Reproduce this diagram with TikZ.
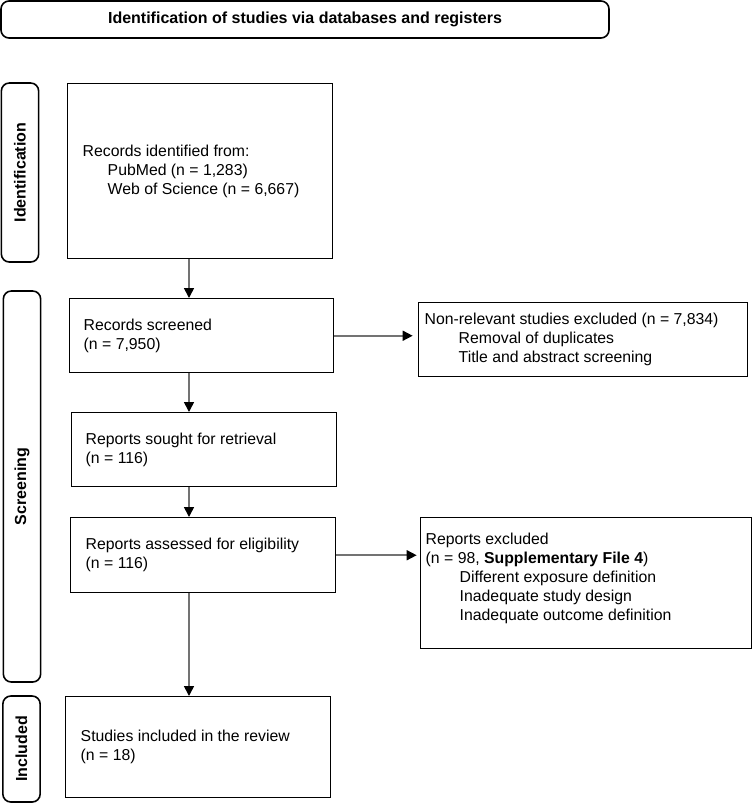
\documentclass[tikz,border=0pt]{standalone}
\usepackage{fontspec}
\setmainfont{Liberation Sans}
\usetikzlibrary{arrows.meta,calc}
\newcommand{\bodyfont}{\fontsize{11.85pt}{14.25pt}\selectfont}
\newcommand{\headfont}{\fontsize{12pt}{14.4pt}\selectfont\bfseries}
\newcommand{\bx}[2]{\makebox[#1][l]{\begin{tabular}{@{}l@{}}#2\end{tabular}}}
\tikzset{
  flowbox/.style={draw=black, line width=1.1pt, rectangle, anchor=north west,
    inner ysep=0pt, font=\bodyfont},
  phasebox/.style={draw=black, line width=1.2pt, rounded corners=6pt, rectangle,
    rotate=90, inner sep=0pt, font=\headfont, minimum height=28pt},
  headbox/.style={draw=black, line width=1.2pt, rounded corners=6pt, rectangle,
    inner sep=0pt, font=\headfont, minimum width=456pt, minimum height=27.75pt},
  flowarrow/.style={draw=black!55, line width=1.2pt,
    -{Triangle[length=7.5pt,width=7.5pt,color=black]}}
}
\begin{document}
\begin{tikzpicture}[x=0.75pt,y=-0.75pt]
\useasboundingbox (0,0) rectangle (752,804);
% header
\node[headbox] (head) at (305,19.5) {Identification of studies via databases and registers};
% phase labels
\node[phasebox, minimum width=134.25pt] (lident) at (20,172.5) {Identification};
\node[phasebox, minimum width=293.25pt] (lscreen) at (22,486.5) {Screening};
\node[phasebox, minimum width=79.5pt] (lincl) at (21.5,749) {Included};
% main column
\node[flowbox, inner xsep=11.25pt, minimum height=131.25pt] (ident) at (67,83)
  {\bx{176.25pt}{Records identified from:\\ \hspace{18.75pt}PubMed (n = 1,283)\\ \hspace{18.75pt}Web of Science (n = 6,667)}};
\node[flowbox, inner xsep=10.5pt, minimum height=55.5pt] (screen) at (69,298)
  {\bx{177pt}{Records screened\\ (n = 7,950)}};
\node[flowbox, inner xsep=10.5pt, minimum height=55.5pt] (sought) at (71,412)
  {\bx{177.75pt}{Reports sought for retrieval\\ (n = 116)}};
\node[flowbox, inner xsep=11.25pt, minimum height=56.25pt] (assess) at (70,517)
  {\bx{176.25pt}{Reports assessed for eligibility\\ (n = 116)}};
\node[flowbox, inner xsep=11.25pt, minimum height=75.75pt] (incl) at (65,696)
  {\bx{176.25pt}{Studies included in the review\\ (n = 18)}};
% exclusion column
\node[flowbox, inner xsep=4.5pt, minimum height=55.5pt] (excl1) at (418,302)
  {\bx{237.75pt}{Non-relevant studies excluded (n = 7,834)\\ \hspace{25.5pt}Removal of duplicates\\ \hspace{25.5pt}Title and abstract screening}};
\node[flowbox, inner xsep=3.75pt, minimum height=98.25pt] (excl2) at (420,517)
  {\bx{240.75pt}{Reports excluded\\ (n = 98, \textbf{Supplementary File 4})\\ \hspace{25.5pt}Different exposure definition\\ \hspace{25.5pt}Inadequate study design\\ \hspace{25.5pt}Inadequate outcome definition\rule[-10.5pt]{0pt}{0pt}}};
% arrows
\coordinate (acol) at (189,0);
\draw[flowarrow] (ident.south -| acol) -- (screen.north -| acol);
\draw[flowarrow] (screen.south -| acol) -- (sought.north -| acol);
\draw[flowarrow] (sought.south -| acol) -- (assess.north -| acol);
\draw[flowarrow] (assess.south -| acol) -- (incl.north -| acol);
\draw[flowarrow, shorten >=4pt] (screen.east) -- (screen.east -| excl1.west);
\draw[flowarrow, shorten >=2.5pt] (assess.east) -- (assess.east -| excl2.west);
\end{tikzpicture}
\end{document}
